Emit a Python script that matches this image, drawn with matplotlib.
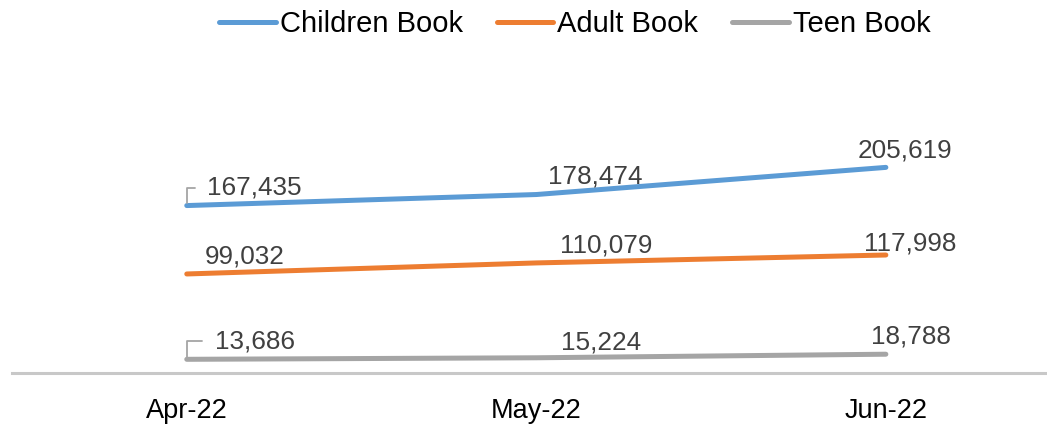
import matplotlib
matplotlib.use("Agg")
import matplotlib.pyplot as plt

plt.rcParams["font.family"] = ["Liberation Sans", "DejaVu Sans"]

# ── Data ──────────────────────────────────────────────────────────────
months = ["Apr-22", "May-22", "Jun-22"]
series_names = ["Children Book", "Adult Book", "Teen Book"]
children = [167435, 178474, 205619]
adult = [99032, 110079, 117998]
teen = [13686, 15224, 18788]

colors = ["#5B9BD5", "#ED7D31", "#A5A5A5"]

# label offsets (pixels) from each point, per series
label_offsets = [
    [(68, 18), (59, 18), (19, 17)],
    [(58, 17), (70, 17), (24, 12)],
    [(68, 18), (65, 15), (25, 18)],
]
# which labels get an Excel-style leader line
leaders = [[True, False, False], [False, False, False], [True, False, False]]

fig = plt.figure(figsize=(10.47, 4.25), dpi=100)
ax = fig.add_axes([12 / 1047, 52 / 425, 1 - 12 / 1047, 250 / 425])

x = list(range(len(months)))
all_series = [children, adult, teen]
for name, vals, col, offs, lead in zip(series_names, all_series, colors,
                                        label_offsets, leaders):
    ax.plot(x, vals, color=col, linewidth=3.6, solid_capstyle="round",
            label=name, clip_on=False)
    for xi, v, (dx, dy), ld in zip(x, vals, offs, lead):
        kw = {}
        if ld:
            kw["arrowprops"] = dict(arrowstyle="-", color="#A5A5A5", lw=1.3,
                                    connectionstyle="angle,angleA=0,angleB=90",
                                    relpos=(0, 0.5), shrinkA=7, shrinkB=2)
        ax.annotate(f"{v:,}", (xi, v), xytext=(dx, dy),
                    textcoords="offset pixels", ha="center", va="center",
                    fontsize=18.8, color="#404040", **kw)

ax.set_xlim(-0.5, 2.461)
ax.set_ylim(0, 250000)
ax.set_xticks(x)
ax.set_xticklabels(months, fontsize=19.5, color="black")
ax.tick_params(axis="x", length=0, pad=18)
ax.set_yticks([])
for side in ["top", "right", "left"]:
    ax.spines[side].set_visible(False)
ax.spines["bottom"].set_color("#C8C8C8")
ax.spines["bottom"].set_linewidth(2.2)

fig.legend(loc="center", bbox_to_anchor=(0.549, 1 - 24 / 425), ncol=3,
           frameon=False, fontsize=21, handlelength=1.93,
           handletextpad=0.14, columnspacing=1.17)

fig.savefig("out.png", dpi=100)
